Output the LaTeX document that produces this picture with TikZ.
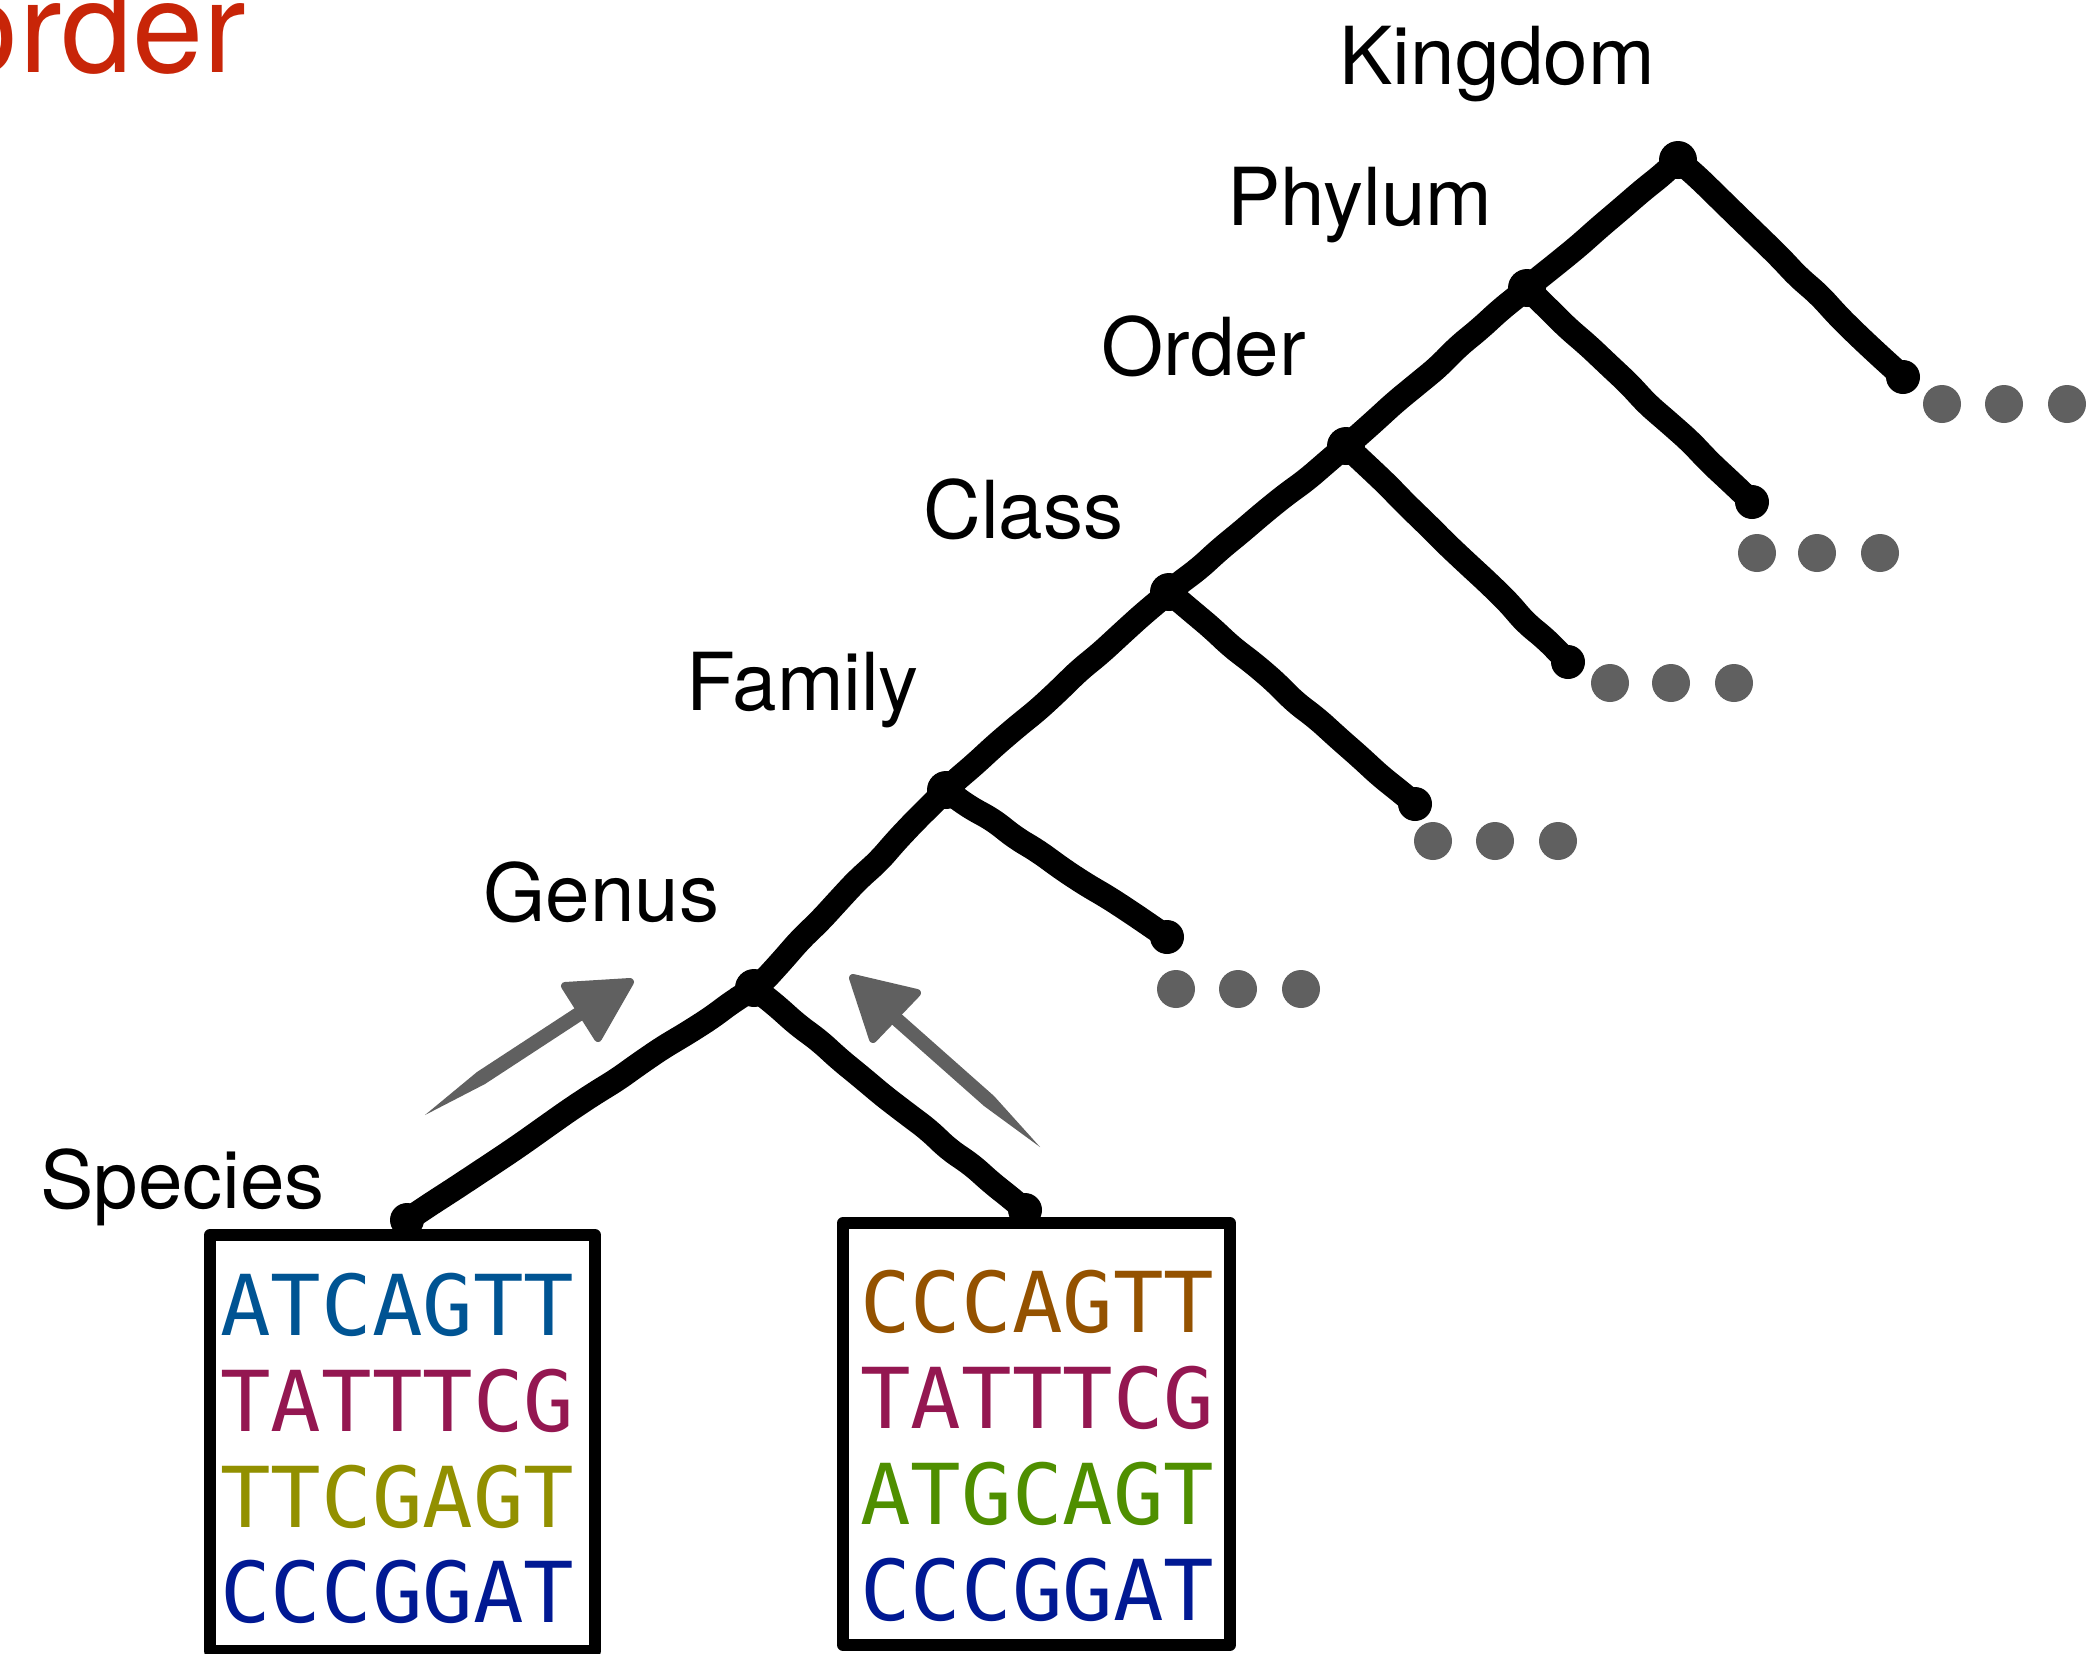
\documentclass[tikz,border=0pt]{standalone}
\usepackage{fontspec}
\setmainfont{TeX Gyre Heros}
\newfontfamily\seqfont{DejaVu Sans Mono}
\usetikzlibrary{decorations.pathmorphing}
\definecolor{ocean}{HTML}{005493}
\definecolor{maroon}{HTML}{941751}
\definecolor{asparagus}{HTML}{929000}
\definecolor{midnight}{HTML}{011993}
\definecolor{mocha}{HTML}{945200}
\definecolor{fern}{HTML}{4F8F00}
\definecolor{dotgray}{HTML}{606060}
\definecolor{titlered}{HTML}{C82508}
\begin{document}
\pgfmathsetseed{11}
\begin{tikzpicture}[x=0.5pt,y=-0.5pt,
  branch/.style={line width=12pt, line cap=round, line join=round, decorate,
    decoration={random steps, segment length=14pt, amplitude=0.7pt}, rounded corners=5pt},
  lab/.style={anchor=base west, inner sep=0pt, font=\fontsize{40pt}{48pt}\selectfont},
  seq/.style={anchor=base west, inner sep=0pt, font=\seqfont\fontsize{42pt}{48pt}\selectfont},
  dotn/.style={circle, fill=dotgray, inner sep=0pt, minimum size=19pt},
  ghead/.style={fill=dotgray, draw=dotgray, line width=4pt, line join=round},
  seqbox/.style={line width=6pt, line join=round}]
\useasboundingbox (0,0) rectangle (2100,1654);
\clip (0,0) rectangle (2100,1654);
\fill[white] (0,0) rectangle (2100,1654);

% title fragment
\node[anchor=base east, inner sep=0pt, text=titlered, font=\fontsize{64pt}{70pt}\selectfont] (ttl) at (247,72) {order};

% labels
\node[lab] (lKi) at (1339,84) {Kingdom};
\node[lab] (lPh) at (1227,225) {Phylum};
\node[lab] (lOr) at (1101,375) {Order};
\node[lab] (lCl) at (923,538) {Class};
\node[lab] (lFa) at (686,710) {Family};
\node[lab] (lGe) at (483,921) {Genus};
\node[lab] (lSp) at (40,1208) {Species};

% tree coordinates
\coordinate (sp1) at (407,1220);
\coordinate (sp2) at (1025,1210);
\coordinate (ge) at (754,988);
\coordinate (fa) at (946,790);
\coordinate (cl) at (1169,592);
\coordinate (or) at (1346,446);
\coordinate (ph) at (1527,288);
\coordinate (ki) at (1678,160);
\coordinate (faE) at (1167,937);
\coordinate (clE) at (1415,804);
\coordinate (orE) at (1568,662);
\coordinate (phE) at (1752,502);
\coordinate (kiE) at (1903,377);

\draw[branch] (sp1) -- (ge) -- (fa) -- (cl) -- (or) -- (ph) -- (ki);
\draw[branch] (ge) -- (sp2);
\draw[branch] (fa) -- (faE);
\draw[branch] (cl) -- (clE);
\draw[branch] (or) -- (orE);
\draw[branch] (ph) -- (phE);
\draw[branch] (ki) -- (kiE);
\foreach \p in {ge,fa,cl,or,ph,ki} \fill (\p) circle[radius=9.5pt];
\foreach \p in {sp1,sp2,faE,clE,orE,phE,kiE} \fill (\p) circle[radius=8.5pt];

% ellipsis dots
\foreach \y/\xs [count=\i] in {404/{1942,2004,2067}, 553/{1757,1817,1880}, 683/{1610,1671,1734}, 841/{1433,1495,1558}, 989/{1176,1238,1301}}
  \foreach \x [count=\j] in \xs \node[dotn] (d\i\j) at (\x,\y) {};

% gray arrows (tapered tail + shaft + triangular head)
\coordinate (a1t) at (425,1115);
\coordinate (a1m1) at (485,1084);
\coordinate (a1m2) at (477,1072);
\coordinate (a1b1) at (589,1016);
\coordinate (a1b2) at (581,1004);
\coordinate (a1p) at (630,982);
\coordinate (a1c) at (565,986);
\coordinate (a1d) at (598,1038);
\fill[dotgray] (a1t) -- (a1m1) -- (a1b1) -- (a1b2) -- (a1m2) -- cycle;
\filldraw[ghead] (a1p) -- (a1c) -- (a1d) -- cycle;

\coordinate (a2t) at (1040,1147);
\coordinate (a2m1) at (994,1096);
\coordinate (a2m2) at (984,1106);
\coordinate (a2b1) at (898,1011);
\coordinate (a2b2) at (888,1021);
\coordinate (a2p) at (853,978);
\coordinate (a2c) at (917,993);
\coordinate (a2d) at (873,1039);
\fill[dotgray] (a2t) -- (a2m1) -- (a2b1) -- (a2b2) -- (a2m2) -- cycle;
\filldraw[ghead] (a2p) -- (a2c) -- (a2d) -- cycle;

% sequence boxes
\draw[seqbox] (210,1235) rectangle (595,1651);
\draw[seqbox] (843,1223) rectangle (1230,1645);

\node[seq, text=ocean]    (s11) at (220,1335) {ATCAGTT};
\node[seq, text=maroon]   (s12) at (220,1431) {TATTTCG};
\node[seq, text=asparagus](s13) at (220,1527) {TTCGAGT};
\node[seq, text=midnight] (s14) at (220,1622) {CCCGGAT};

\node[seq, text=mocha]    (s21) at (860,1332) {CCCAGTT};
\node[seq, text=maroon]   (s22) at (860,1428) {TATTTCG};
\node[seq, text=fern]     (s23) at (860,1524) {ATGCAGT};
\node[seq, text=midnight] (s24) at (860,1620) {CCCGGAT};
\end{tikzpicture}
\end{document}
